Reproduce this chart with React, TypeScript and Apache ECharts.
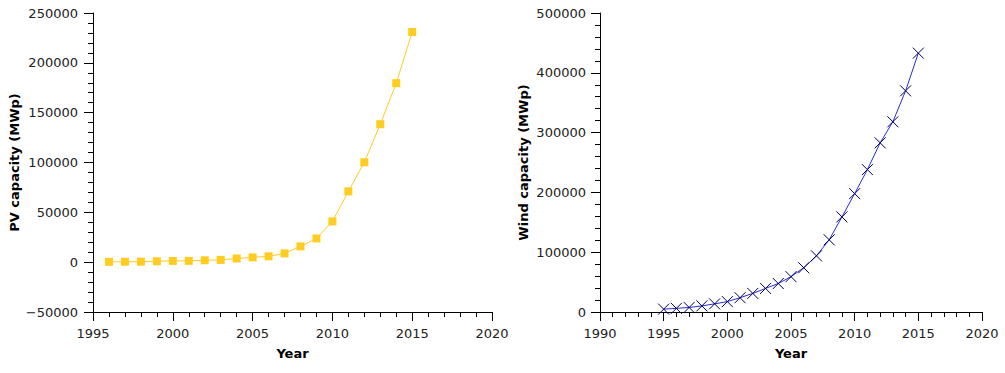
import React, { useEffect, useRef } from "react";
import * as echarts from "echarts";

const pvYears = [1996, 1997, 1998, 1999, 2000, 2001, 2002, 2003, 2004, 2005, 2006, 2007, 2008, 2009, 2010, 2011, 2012, 2013, 2014, 2015];
const pvValues = [300, 400, 500, 900, 1200, 1300, 1900, 2300, 3700, 4800, 5900, 8800, 15800, 23800, 40900, 71000, 100200, 138400, 179600, 230900];

const windYears = [1995, 1996, 1997, 1998, 1999, 2000, 2001, 2002, 2003, 2004, 2005, 2006, 2007, 2008, 2009, 2010, 2011, 2012, 2013, 2014, 2015];
const windValues = [4800, 6100, 7600, 10200, 13600, 17400, 23900, 31100, 39431, 47620, 59091, 73957, 93924, 120696, 159052, 197956, 238110, 282850, 318105, 369862, 432883];

const FONT = "'DejaVu Sans', sans-serif";
const plain = (v: number) => (v < 0 ? "\u2212" + String(-v) : String(v));

function xAxisCfg(gridIndex: number, min: number, max: number) {
  return {
    type: "value",
    gridIndex,
    min,
    max,
    interval: 5,
    name: "Year",
    nameLocation: "middle",
    nameGap: 35,
    nameTextStyle: { fontFamily: FONT, fontSize: 13, fontWeight: "bold", color: "#000" },
    axisLine: { show: true, onZero: false, lineStyle: { color: "#000", width: 1 } },
    axisTick: { show: true, length: 9, lineStyle: { color: "#000" } },
    minorTick: { show: true, splitNumber: 5, length: 5, lineStyle: { color: "#000" } },
    splitLine: { show: false },
    axisLabel: { fontFamily: FONT, fontSize: 13, color: "#222", margin: 15, formatter: plain },
  };
}

function yAxisCfg(gridIndex: number, min: number, max: number, interval: number, name: string, nameGap: number, margin: number) {
  return {
    type: "value",
    gridIndex,
    min,
    max,
    interval,
    name,
    nameLocation: "middle",
    nameGap,
    nameTextStyle: { fontFamily: FONT, fontSize: 13, fontWeight: "bold", color: "#000" },
    axisLine: { show: true, onZero: false, lineStyle: { color: "#000", width: 1 } },
    axisTick: { show: true, length: 9, lineStyle: { color: "#000" } },
    minorTick: { show: true, splitNumber: 5, length: 5, lineStyle: { color: "#000" } },
    splitLine: { show: false },
    axisLabel: { fontFamily: FONT, fontSize: 13, color: "#222", margin, formatter: plain },
  };
}

export default function App() {
  const ref = useRef<HTMLDivElement>(null);
  useEffect(() => {
    if (!ref.current) return;
    const chart = echarts.init(ref.current, undefined, { renderer: "svg" });
    chart.setOption({
      animation: false,
      backgroundColor: "#fff",
      grid: [
        { left: 93, top: 13, width: 399, height: 299 },
        { left: 600, top: 13, width: 382, height: 299 },
      ],
      xAxis: [xAxisCfg(0, 1995, 2020), xAxisCfg(1, 1990, 2020)],
      yAxis: [
        yAxisCfg(0, -50000, 250000, 50000, "PV capacity (MWp)", 72, 15),
        yAxisCfg(1, 0, 500000, 100000, "Wind capacity (MWp)", 70, 14),
      ],
      series: [
        {
          type: "line",
          xAxisIndex: 0,
          yAxisIndex: 0,
          data: pvYears.map((y, i) => [y, pvValues[i]]),
          symbol: "rect",
          symbolSize: 8,
          showAllSymbol: true,
          lineStyle: { color: "#ffcc22", width: 1 },
          itemStyle: { color: "#ffcc22" },
        },
        {
          type: "line",
          xAxisIndex: 1,
          yAxisIndex: 1,
          data: windYears.map((y, i) => [y, windValues[i]]),
          symbol: "path://M0,0L10,10M10,0L0,10",
          symbolSize: 11,
          showAllSymbol: true,
          lineStyle: { color: "#2b2bd0", width: 1 },
          itemStyle: { color: "none", borderColor: "#000060", borderWidth: 1 },
        },
      ],
    });
    return () => chart.dispose();
  }, []);
  return <div ref={ref} style={{ position: "fixed", left: 0, top: 0, width: 1005, height: 373 }} />;
}
